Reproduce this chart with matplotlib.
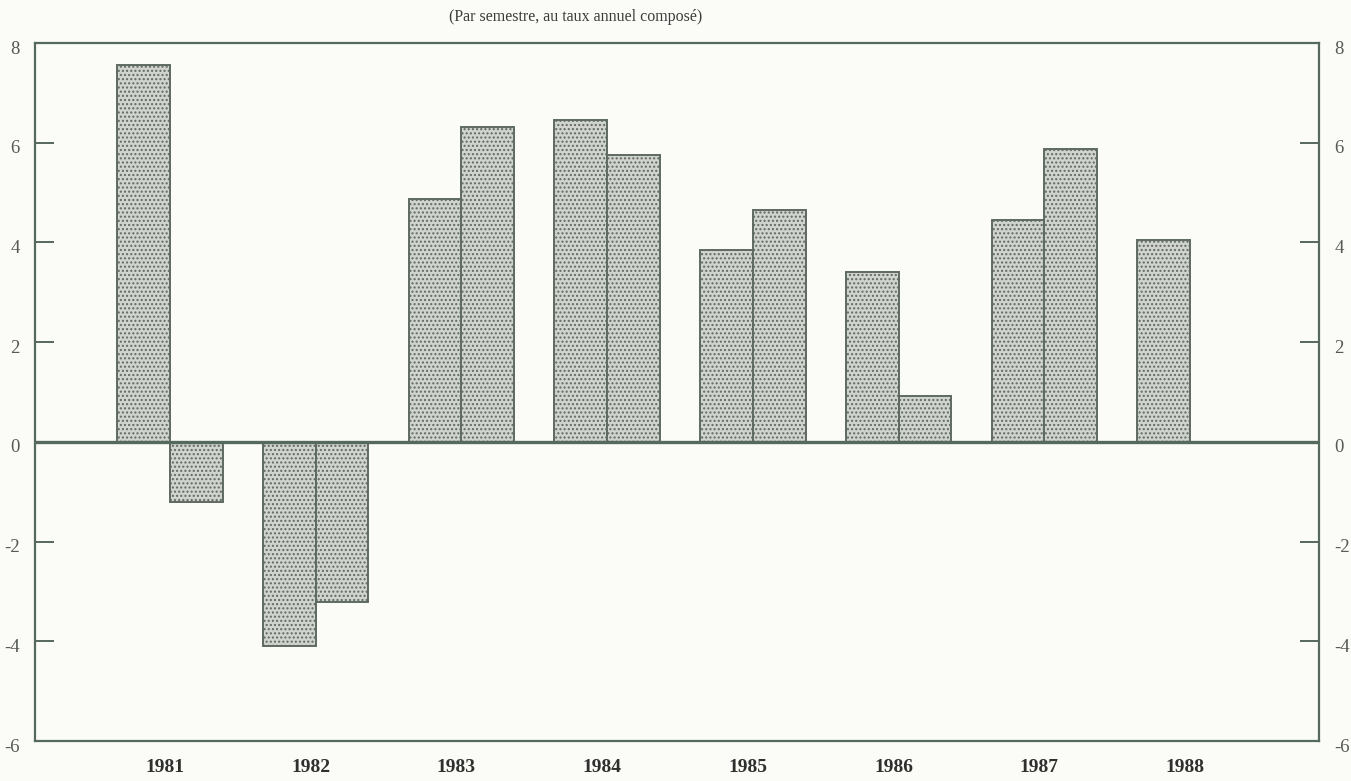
import matplotlib
matplotlib.use("Agg")
import matplotlib.pyplot as plt
import matplotlib.transforms as mtransforms
import numpy as np

# Semi-annual growth rates, compound annual rate (%)
years = ["1981", "1982", "1983", "1984", "1985", "1986", "1987", "1988"]
first_half = [7.55, -4.1, 4.87, 6.46, 3.85, 3.41, 4.45, 4.05]
second_half = [-1.2, -3.22, 6.32, 5.76, 4.65, 0.92, 5.88, None]

title = "(Par semestre, au taux annuel composé)"
yticks = [-6, -4, -2, 0, 2, 4, 6, 8]

plt.rcParams["font.family"] = ["Liberation Serif", "DejaVu Serif"]
plt.rcParams["axes.unicode_minus"] = False
plt.rcParams["hatch.color"] = "#7a827c"
plt.rcParams["hatch.linewidth"] = 1.0

frame_col = "#56695d"
bg = "#fbfbf8"

fig = plt.figure(figsize=(13.51, 7.81), dpi=100, facecolor=bg)
ax = fig.add_axes([35 / 1351, 1 - 741 / 781, (1319 - 35) / 1351, (741 - 43) / 781])
ax.set_facecolor(bg)

x = np.arange(len(years))
w = 0.362

h1_x = x - w / 2
h2_x = [xi + w / 2 for xi, v in zip(x, second_half) if v is not None]
h2_v = [v for v in second_half if v is not None]

bar_kw = dict(width=w, facecolor="#d0d3ce", edgecolor="#5f6a63",
              linewidth=1.4, hatch="....", zorder=2)
ax.bar(h1_x, first_half, **bar_kw)
ax.bar(h2_x, h2_v, **bar_kw)

ax.axhline(0, color=frame_col, linewidth=2.4, zorder=3)

ax.set_xlim(-0.9265, 7.885)
ax.set_ylim(-6, 8)

for s in ax.spines.values():
    s.set_color(frame_col)
    s.set_linewidth(1.6)

ax.set_yticks(yticks)
ax.set_yticklabels([str(t) for t in yticks])
ax.tick_params(axis="y", which="both", direction="in", length=14, width=1.4,
               color=frame_col, left=True, right=True, labelleft=True,
               labelright=True, labelsize=13.5, labelcolor="#555a55", pad=11)

# Tick numbers on both sides sit slightly below their tick marks
shift = mtransforms.ScaledTranslation(0, -4 / 100, fig.dpi_scale_trans)
for t in ax.yaxis.get_major_ticks():
    t.label1.set_transform(t.label1.get_transform() + shift)
    t.label2.set_transform(t.label2.get_transform() + shift)

ax.set_xticks(x - 0.035)
ax.set_xticklabels(years, fontweight="bold", fontsize=14, color="#2e302e")
ax.tick_params(axis="x", length=0, pad=13)

fig.text(576 / 1351, 1 - 17 / 781, title, ha="center", va="center",
         fontsize=11.5, color="#3a3d3a")

fig.savefig("out.png", dpi=100, facecolor=bg)
